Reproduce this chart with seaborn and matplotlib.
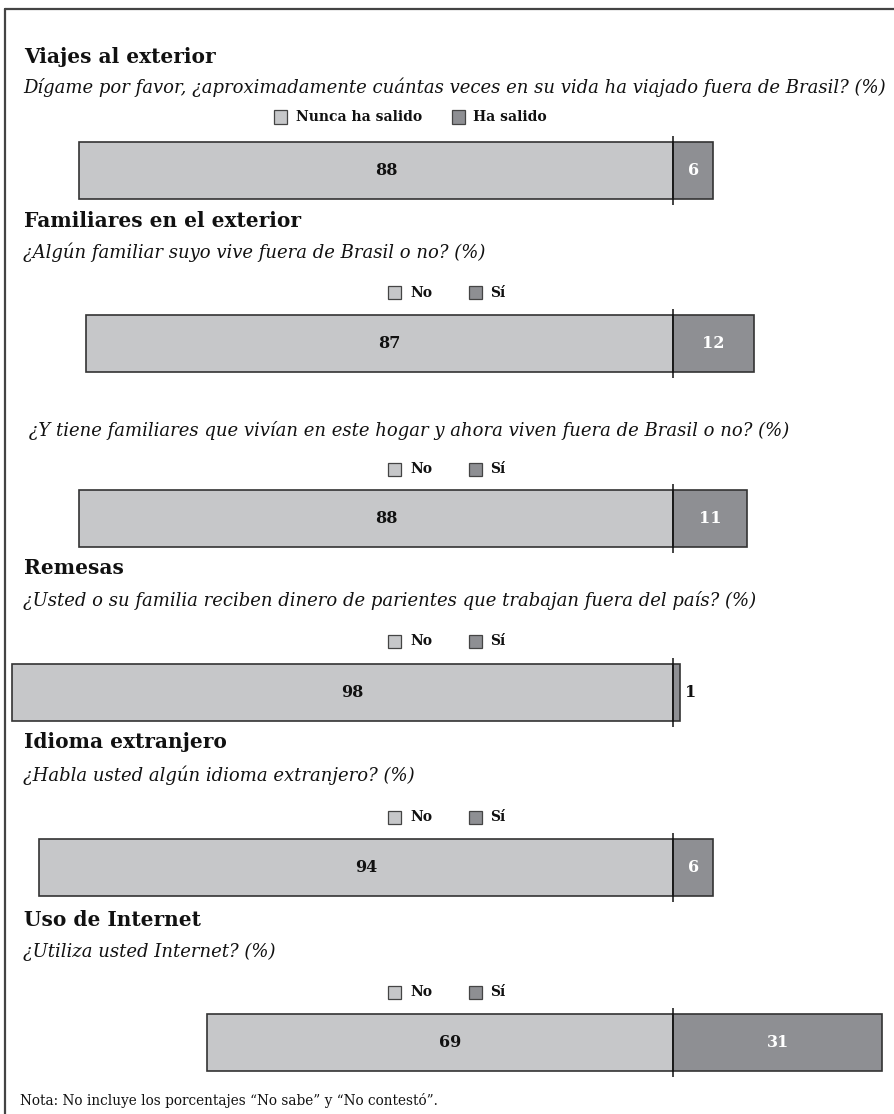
import matplotlib
matplotlib.use("Agg")
import matplotlib.pyplot as plt
import seaborn as sns
import pandas as pd
from matplotlib.patches import Rectangle
from matplotlib.lines import Line2D

sns.set_theme(style="white")
plt.rcParams['font.family'] = ['DejaVu Serif']

# ---------------- data ----------------
section_titles = ["Viajes al exterior", "Familiares en el exterior", None,
                  "Remesas", "Idioma extranjero", "Uso de Internet"]
questions = [
    "Dígame por favor, ¿aproximadamente cuántas veces en su vida ha viajado fuera de Brasil? (%)",
    "¿Algún familiar suyo vive fuera de Brasil o no? (%)",
    " ¿Y tiene familiares que vivían en este hogar y ahora viven fuera de Brasil o no? (%)",
    "¿Usted o su familia reciben dinero de parientes que trabajan fuera del país? (%)",
    "¿Habla usted algún idioma extranjero? (%)",
    "¿Utiliza usted Internet? (%)",
]
neg_labels = ["Nunca ha salido", "No", "No", "No", "No", "No"]
pos_labels = ["Ha salido", "Sí", "Sí", "Sí", "Sí", "Sí"]
no_vals = [88, 87, 88, 98, 94, 69]
si_vals = [6, 12, 11, 1, 6, 31]
note = "Nota: No incluye los porcentajes “No sabe” y “No contestó”."

# ---------------- layout (pixels) ----------------
W, H = 895, 1114
C_NO = "#c6c7c9"
C_SI = "#8e8f93"
EDGE = "#333333"
center_px = 673
scale = 6.75  # px per percent

title_y = [57, 221, None, 568, 742, 920]
quest_y = [87, 252, 430, 601, 775, 952]
leg_y = [117, 293, 469, 641, 817, 992]
bar_top = [142, 315, 490, 664, 839, 1014]
bar_h = 57
pad = 6

def fx(px):
    return px / W

def fy(py):
    return 1 - py / H

fig = plt.figure(figsize=(W / 100, H / 100), dpi=100)

# border
fig.add_artist(Line2D([fx(5), fx(895)], [fy(8.5), fy(8.5)], color="#444444", lw=1.6))
fig.add_artist(Line2D([fx(5), fx(5)], [fy(8.5), fy(1114)], color="#444444", lw=1.6))

df = pd.DataFrame({"q": questions, "no": no_vals, "si": si_vals,
                   "neg": neg_labels, "pos": pos_labels})

for i, row in df.iterrows():
    if section_titles[i]:
        fig.text(fx(24), fy(title_y[i]), section_titles[i], fontsize=14.5,
                 fontweight="bold", va="center", ha="left", color="#111111")
    fig.text(fx(23), fy(quest_y[i]), row["q"], fontsize=13, style="italic",
             va="center", ha="left", color="#111111")

    # legend
    if i == 0:
        sq = [274, 452]
        tx = [296, 473]
    else:
        sq = [388, 469]
        tx = [410, 490]
    for (sx, txx, col, lab) in zip(sq, tx, [C_NO, C_SI], [row["neg"], row["pos"]]):
        fig.add_artist(Rectangle((fx(sx), fy(leg_y[i] + 6.5)), 13 / W, 13 / H,
                                 facecolor=col, edgecolor="#444444", lw=0.9,
                                 transform=fig.transFigure))
        fig.text(fx(txx), fy(leg_y[i]), lab, fontsize=10, fontweight="bold",
                 va="center", ha="left", color="#111111")

    # bar axes
    top = bar_top[i] - pad
    hh = bar_h + 2 * pad
    ax = fig.add_axes([0, fy(top + hh), 1, hh / H])
    d_no = pd.DataFrame({"cat": [row["q"]], "val": [-row["no"]]})
    d_si = pd.DataFrame({"cat": [row["q"]], "val": [row["si"]]})
    sns.barplot(data=d_no, x="val", y="cat", orient="h", color=C_NO,
                edgecolor=EDGE, linewidth=1.2, width=0.8, saturation=1, ax=ax)
    sns.barplot(data=d_si, x="val", y="cat", orient="h", color=C_SI,
                edgecolor=EDGE, linewidth=1.2, width=0.8, saturation=1, ax=ax)
    ax.set_xlim(-center_px / scale, (W - center_px) / scale)
    hlim = 0.4 * hh / bar_h
    ax.set_ylim(hlim, -hlim)
    ax.axvline(0, color="#111111", lw=1.1)
    ax.axis("off")
    ax.text(-row["no"] / 2 + 1.5, 0, str(row["no"]), ha="center", va="center",
            fontsize=11.5, fontweight="bold", color="#111111")
    if row["si"] >= 5:
        ax.text(row["si"] / 2, 0, str(row["si"]), ha="center", va="center",
                fontsize=11.5, fontweight="bold", color="white")
    else:
        ax.text(row["si"] + 0.8, 0, str(row["si"]), ha="left", va="center",
                fontsize=11.5, fontweight="bold", color="#111111")

fig.text(fx(20), fy(1100), note, fontsize=9.8, va="center", ha="left", color="#111111")

fig.savefig("out.png", dpi=100)
